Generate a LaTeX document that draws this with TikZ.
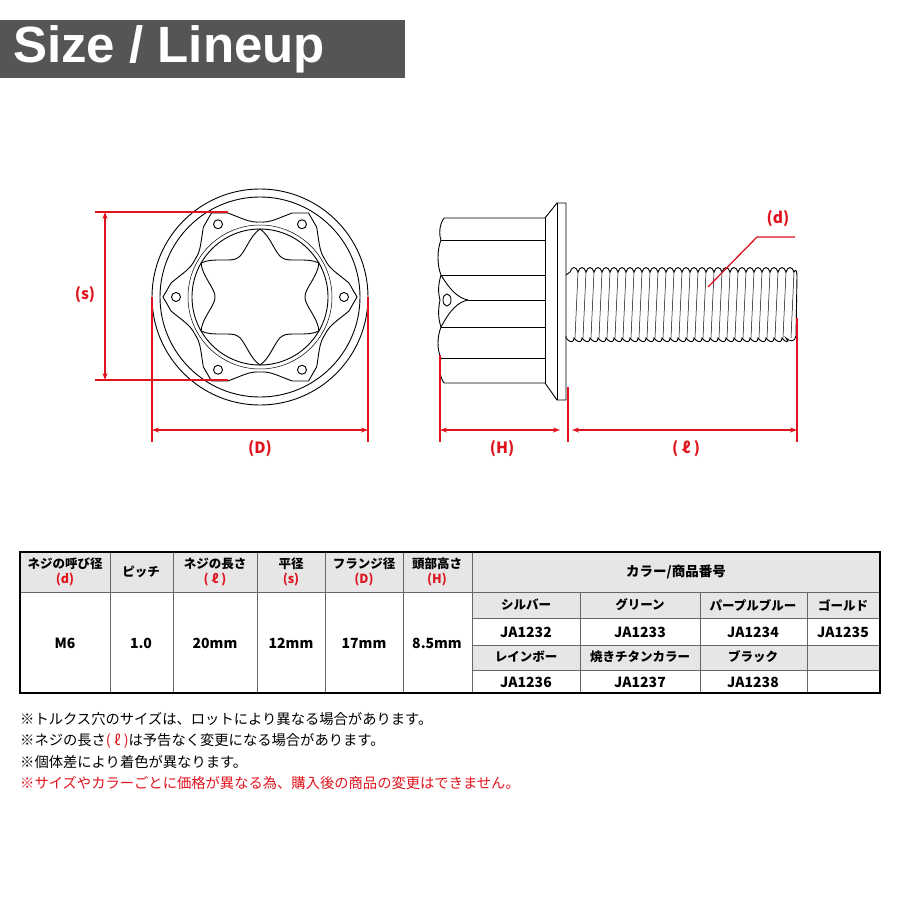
\documentclass[tikz,border=0pt]{standalone}
\usepackage{fontspec}
\setmainfont{Noto Sans CJK JP}
\newfontfamily\titlefont{Liberation Sans}
\usetikzlibrary{arrows.meta,calc}
\definecolor{myred}{HTML}{E0141E}
\definecolor{bar}{HTML}{555555}
\definecolor{hdr}{HTML}{E6E6E6}
\tikzset{
 ln/.style={line width=0.9pt,black},
 thin/.style={line width=0.5pt,black},
 rd/.style={myred,line width=1.3pt},
 dim/.style={myred,line width=1.3pt,{Stealth[length=7pt,width=5pt]}-{Stealth[length=7pt,width=5pt]}},
 lab/.style={text=myred,font=\bfseries\fontsize{15.5}{17}\selectfont},
 cell/.style={font=\bfseries\fontsize{12.5}{15}\selectfont},
 val/.style={font=\bfseries\fontsize{14}{16}\selectfont},
 note/.style={anchor=west,font=\fontsize{14.3}{16}\selectfont,inner sep=0pt}
}
\begin{document}
\begin{tikzpicture}[x=1pt,y=-1pt]
\useasboundingbox (0,0) rectangle (900,900);
\fill[white] (0,0) rectangle (900,900);
% title
\fill[bar] (0,20) rectangle (405,78);
\node[anchor=west,text=white,font=\titlefont\bfseries\fontsize{51}{54}\selectfont,inner sep=0pt] (title) at (13,49) {Size / Lineup};

% front view
\coordinate (c) at (260,297);
\draw[ln] (c) circle (108);
\draw[ln] (c) circle (100);
\draw[thin] (c) circle (72);
\draw[ln] (c) circle (68);
% flange polygon with scalloped edges
\draw[ln] (c) ++(0:97)
 \foreach \a in {0,60,...,300}{
   -- ($(c)+(\a+9:90)$)
   .. controls ($(c)+(\a+18:80)$) and ($(c)+(\a+22:75)$) .. ($(c)+(\a+30:75)$)
   .. controls ($(c)+(\a+38:75)$) and ($(c)+(\a+42:80)$) .. ($(c)+(\a+51:90)$)
   -- ($(c)+(\a+60:97)$)
 } -- cycle;
\foreach \a in {0,60,...,300} \draw[ln] ($(c)+(\a:84)$) circle (4.5);
% torx star
\draw[ln] ($(c)+(90:68)$)
 \foreach \a in {90,150,...,390}{
   .. controls ($(c)+(\a+10:62)$) and ($(c)+(\a+20:45)$) .. ($(c)+(\a+30:45)$)
   .. controls ($(c)+(\a+40:45)$) and ($(c)+(\a+50:62)$) .. ($(c)+(\a+60:68)$)
 } -- cycle;
% dims front
\coordinate (s1) at (95,212); \coordinate (s1e) at (228,212);
\coordinate (s2) at (95,380); \coordinate (s2e) at (228,380);
\draw[rd] (s1) -- (s1e); \draw[rd] (s2) -- (s2e);
\coordinate (sa) at (105,212); \coordinate (sb) at (105,380);
\draw[dim] (sa) -- (sb);
\node[lab] (sl) at (85,295) {(s)};
\coordinate (D1) at (152,297); \coordinate (D1b) at (152,442);
\coordinate (D2) at (368,297); \coordinate (D2b) at (368,442);
\draw[rd] (D1) -- (D1b); \draw[rd] (D2) -- (D2b);
\coordinate (Da) at (152,430); \coordinate (Db) at (368,430);
\draw[dim] (Da) -- (Db);
\node[lab] (Dl) at (260,449) {(D)};

% side view head
\draw[ln] (444,218) -- (545,218) -- (557,203) -- (566,203) -- (566,400) -- (557,400) -- (545,383) -- (444,383);
\draw[ln] (557,203) -- (557,400);
\draw[ln] (545,218) -- (545,383);
\draw[ln] (444,218) .. controls (439,225) and (439,235) .. (441,240)
 .. controls (437,250) and (437,265) .. (441,275)
 .. controls (438,285) and (438,292) .. (440,300)
 .. controls (438,310) and (438,318) .. (441,327)
 .. controls (437,337) and (437,350) .. (441,358)
 .. controls (439,365) and (439,376) .. (444,383);
\foreach \y in {240,275,327,358} \draw[ln] (441,\y) -- (545,\y);
\draw[ln] (468,300) -- (545,300);
\draw[ln] (441,275) .. controls (450,290) and (458,298) .. (468,300);
\draw[ln] (441,327) .. controls (450,310) and (458,302) .. (468,300);
\draw[ln] (447,300) ellipse (4 and 6);
% thread
\draw[ln] (566,275) -- (570,272)
 \foreach \i in {0,...,27}{ .. controls ({570+8*\i+2},266) and ({570+8*\i+6},266) .. ({578+8*\i},272) }
 .. controls (796,268) and (797,272) .. (797,276) -- (796,336)
 .. controls (795,342) and (790,342) .. (786,338)
 \foreach \i in {27,...,0}{ .. controls ({568+8*\i+6},343) and ({568+8*\i+2},343) .. ({568+8*\i-2},338) }
 -- (566,336);
\foreach \i in {0,...,27} \draw[thin] ({578+8*\i},272) -- ({575+8*\i},338);
% dims side
\draw[rd] (797,318) -- (797,442);
\draw[rd] (440,355) -- (440,442);
\draw[rd] (568,387) -- (568,442);
\draw[dim] (440,430) -- (560,430);
\draw[dim] (572,430) -- (797,430);
\node[lab] (Hl) at (502,449) {(H)};
\node[lab] (ll) at (686,449) {( ℓ )};
\draw[rd] (708,287) -- (757,237) -- (795,237);
\node[lab] (dl) at (778,219) {(d)};

% table
\fill[hdr] (20,552) rectangle (880,592);
\fill[hdr] (472,592) rectangle (880,618);
\fill[hdr] (472,645) rectangle (880,670);
\draw[line width=0.8pt,gray!80!black] (20,592) -- (880,592);
\foreach \x in {110,173,257,325,403,472} \draw[line width=0.8pt,gray!80!black] (\x,552) -- (\x,693);
\foreach \y in {618,645,670} \draw[line width=0.8pt,gray!80!black] (472,\y) -- (880,\y);
\foreach \x in {580,700,807} \draw[line width=0.8pt,gray!80!black] (\x,592) -- (\x,693);
\draw[line width=1.6pt] (20,552) rectangle (880,693);
\node[cell,align=center] (h1) at (65,572) {ネジの呼び径\\\textcolor{myred}{(d)}};
\node[cell] (h2) at (141,572) {ピッチ};
\node[cell,align=center] (h3) at (215,572) {ネジの長さ\\\textcolor{myred}{( ℓ )}};
\node[cell,align=center] (h4) at (291,572) {平径\\\textcolor{myred}{(s)}};
\node[cell,align=center] (h5) at (364,572) {フランジ径\\\textcolor{myred}{(D)}};
\node[cell,align=center] (h6) at (437,572) {頭部高さ\\\textcolor{myred}{(H)}};
\node[cell,font=\bfseries\fontsize{13.5}{15}\selectfont] (h7) at (676,572) {カラー/商品番号};
\node[val] (v1) at (65,643) {M6};
\node[val] (v2) at (141,643) {1.0};
\node[val] (v3) at (215,643) {20mm};
\node[val] (v4) at (291,643) {12mm};
\node[val] (v5) at (364,643) {17mm};
\node[val] (v6) at (437,643) {8.5mm};
\node[cell] (n1) at (526,605) {シルバー};
\node[cell] (n2) at (640,605) {グリーン};
\node[cell] (n3) at (753,605) {パープルブルー};
\node[cell] (n4) at (843,605) {ゴールド};
\node[val] (j1) at (526,632) {JA1232};
\node[val] (j2) at (640,632) {JA1233};
\node[val] (j3) at (753,632) {JA1234};
\node[val] (j4) at (843,632) {JA1235};
\node[cell] (n5) at (526,657) {レインボー};
\node[cell] (n6) at (640,657) {焼きチタンカラー};
\node[cell] (n7) at (753,657) {ブラック};
\node[val] (j5) at (526,682) {JA1236};
\node[val] (j6) at (640,682) {JA1237};
\node[val] (j7) at (753,682) {JA1238};

% notes
\node[note] (t1) at (20,719) {※トルクス穴のサイズは、ロットにより異なる場合があります。};
\node[note] (t2) at (20,741) {※ネジの長さ\textcolor{myred}{( ℓ )}は予告なく変更になる場合があります。};
\node[note] (t3) at (20,762) {※個体差により着色が異なります。};
\node[note,text=myred] (t4) at (20,783) {※サイズやカラーごとに価格が異なる為、購入後の商品の変更はできません。};
\end{tikzpicture}
\end{document}
